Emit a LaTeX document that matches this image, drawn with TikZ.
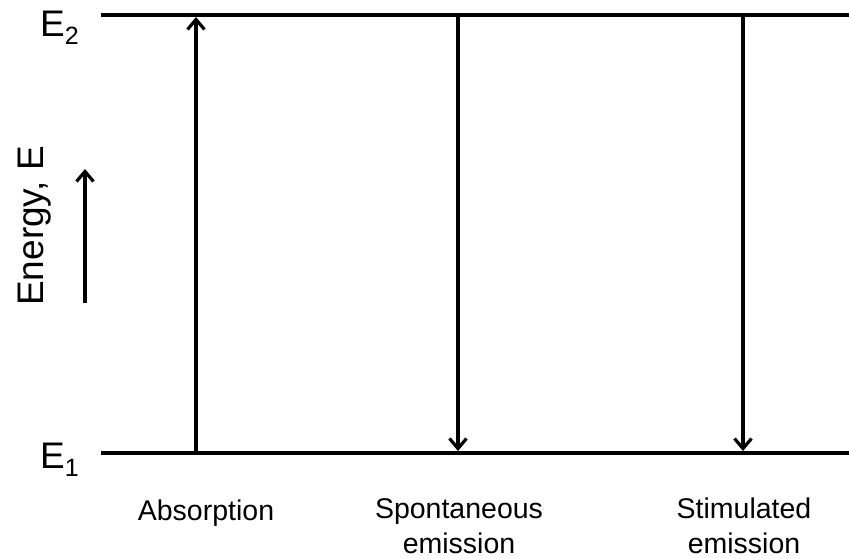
\documentclass[tikz,border=0pt]{standalone}
\usepackage{fontspec}
\setmainfont{Liberation Sans}
\usetikzlibrary{arrows.meta}
\tikzset{
  level/.style={line width=3.4pt},
  trans/.style={line width=3.4pt,-{Straight Barb[length=10pt,width=17pt,line width=3.2pt]}},
  lbl/.style={inner sep=0pt,font=\fontsize{28.5}{35}\selectfont,align=center},
  elbl/.style={inner sep=0pt,anchor=base west,font=\fontsize{37}{40}\selectfont},
}
\newcommand{\sublbl}[1]{\raisebox{-8pt}{\fontsize{25}{25}\selectfont #1}}
\begin{document}
\begin{tikzpicture}[x=1pt,y=-1pt]
\useasboundingbox (0,0) rectangle (849,559);
% levels
\coordinate (e2l) at (101,15);
\coordinate (e2r) at (849,15);
\coordinate (e1l) at (101,453);
\coordinate (e1r) at (849,453);
\draw[level] (e2l) -- (e2r);
\draw[level] (e1l) -- (e1r);
% level labels
\node[elbl] (E2) at (40,37) {E\sublbl{2}};
\node[elbl] (E1) at (40,468) {E\sublbl{1}};
% transitions
\coordinate (ab1) at (196,453);
\coordinate (ab2) at (196,17);
\coordinate (sp1) at (458,15);
\coordinate (sp2) at (458,451);
\coordinate (st1) at (743,15);
\coordinate (st2) at (743,451);
\draw[trans] (ab1) -- (ab2);
\draw[trans] (sp1) -- (sp2);
\draw[trans] (st1) -- (st2);
% energy axis
\coordinate (en1) at (85,303);
\coordinate (en2) at (85,169);
\draw[trans] (en1) -- (en2);
\node[elbl,rotate=90] (EN) at (43,306) {Energy, E};
% process labels
\node[lbl,anchor=base] (abs) at (206,520) {Absorption};
\node[lbl,anchor=base] (spo) at (459,553) {Spontaneous\\emission};
\node[lbl,anchor=base] (sti) at (744,553) {Stimulated\\emission};
\end{tikzpicture}
\end{document}
